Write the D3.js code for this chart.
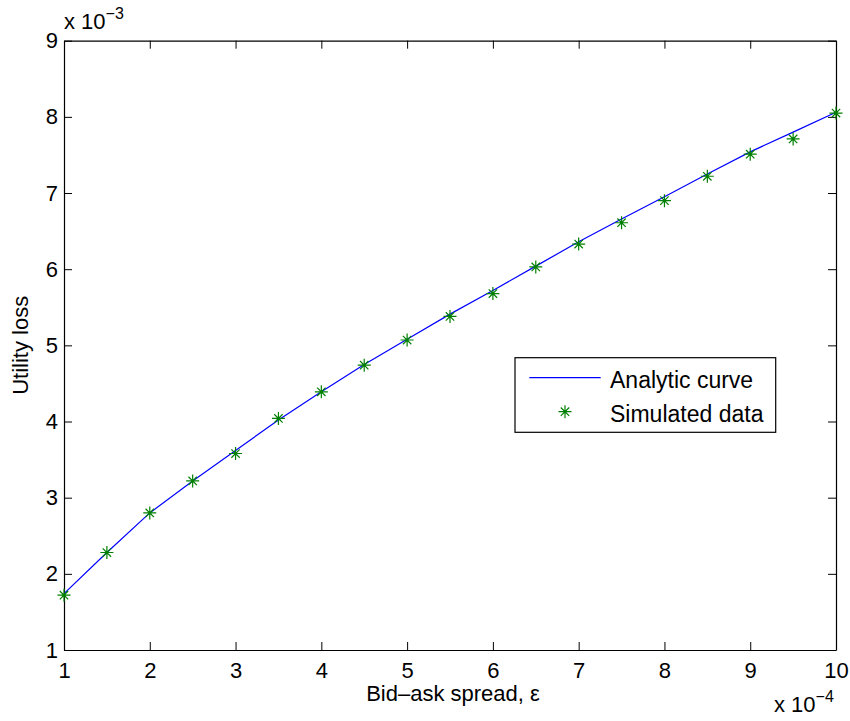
<!DOCTYPE html>
<html><head><meta charset="utf-8">
<script src="https://cdn.jsdelivr.net/npm/d3@7"></script>
<style>body{margin:0;background:#fff;} text{font-family:"Liberation Sans",Arial,sans-serif;fill:#000;}</style>
</head><body>
<svg id="c" width="850" height="721"></svg>
<script>
const spreadX = [1,1.5,2,2.5,3,3.5,4,4.5,5,5.5,6,6.5,7,7.5,8,8.5,9,9.5,10];
const analytic = [1.74,2.28,2.80,3.22,3.62,4.02,4.39,4.75,5.08,5.41,5.72,6.04,6.36,6.66,6.95,7.25,7.54,7.80,8.06];
const simulated = [1.72,2.28,2.80,3.22,3.58,4.04,4.39,4.74,5.07,5.38,5.68,6.03,6.33,6.61,6.90,7.22,7.51,7.71,8.05];
const xTicks = [1,2,3,4,5,6,7,8,9,10];
const yTicks = [1,2,3,4,5,6,7,8,9];

const L=64,R=836,T=40.7,B=650;
const svg=d3.select("#c");
const x=d3.scaleLinear().domain([1,10]).range([L,R]);
const y=d3.scaleLinear().domain([1,9]).range([B,T]);
const fs=22, tl=8;

const g=svg.append("g");
const ax=[
 d3.axisBottom(x).tickValues(xTicks).tickSizeInner(-tl).tickSizeOuter(0).tickPadding(12),
 d3.axisTop(x).tickValues(xTicks).tickSizeInner(-tl).tickSizeOuter(0).tickFormat(""),
 d3.axisLeft(y).tickValues(yTicks).tickSizeInner(-tl).tickSizeOuter(0).tickPadding(6),
 d3.axisRight(y).tickValues(yTicks).tickSizeInner(-tl).tickSizeOuter(0).tickFormat("")
];
const pos=[`translate(0,${B})`,`translate(0,${T})`,`translate(${L},0)`,`translate(${R},0)`];
ax.forEach((a,i)=>{
  const gg=g.append("g").attr("transform",pos[i]).call(a);
  gg.selectAll("path").attr("stroke","#000").attr("stroke-width",1.2);
  gg.selectAll("line").attr("stroke","#000").attr("stroke-width",1);
  gg.selectAll("text").attr("font-size",fs).attr("font-family","Liberation Sans, Arial, sans-serif").attr("fill","#000");
});

// analytic line
svg.append("path").datum(spreadX.map((v,i)=>[v,analytic[i]]))
 .attr("fill","none").attr("stroke","#0000ff").attr("stroke-width",1.2)
 .attr("d",d3.line().x(d=>x(d[0])).y(d=>y(d[1])));

function star(sel,cx,cy){
  const a=6.5,b=4.2;
  sel.append("path").attr("fill","none").attr("stroke","#008000").attr("stroke-width",1.2)
   .attr("d",`M${cx-a},${cy}H${cx+a}M${cx},${cy-a}V${cy+a}M${cx-b},${cy-b}L${cx+b},${cy+b}M${cx-b},${cy+b}L${cx+b},${cy-b}`);
}
const mg=svg.append("g");
spreadX.forEach((v,i)=>star(mg,x(v),y(simulated[i])));

// axis labels
svg.append("text").attr("x",(L+R)/2+3).attr("y",701).attr("text-anchor","middle").attr("font-size",fs).text("Bid\u2013ask spread, \u03b5");
svg.append("text").attr("transform",`translate(28,${(T+B)/2}) rotate(-90)`).attr("text-anchor","middle").attr("font-size",fs).text("Utility loss");

// exponent labels
const e1=svg.append("text").attr("x",64).attr("y",29).attr("font-size",fs);
e1.append("tspan").text("x 10");
e1.append("tspan").attr("dy",-10).attr("font-size",16).text("\u22123");
const e2=svg.append("text").attr("x",774).attr("y",712).attr("font-size",fs);
e2.append("tspan").text("x 10");
e2.append("tspan").attr("dy",-10).attr("font-size",16).text("\u22124");

// legend
const lg=svg.append("g");
lg.append("rect").attr("x",515).attr("y",357.7).attr("width",260.7).attr("height",74.6).attr("fill","#fff").attr("stroke","#000").attr("stroke-width",1.2);
lg.append("line").attr("x1",529.3).attr("x2",600.7).attr("y1",377.7).attr("y2",377.7).attr("stroke","#0000ff").attr("stroke-width",1.2);
star(lg,565,411.7);
lg.append("text").attr("x",610).attr("y",388).attr("font-size",23).text("Analytic curve");
lg.append("text").attr("x",610).attr("y",421.7).attr("font-size",23).text("Simulated data");
</script>
</body></html>
